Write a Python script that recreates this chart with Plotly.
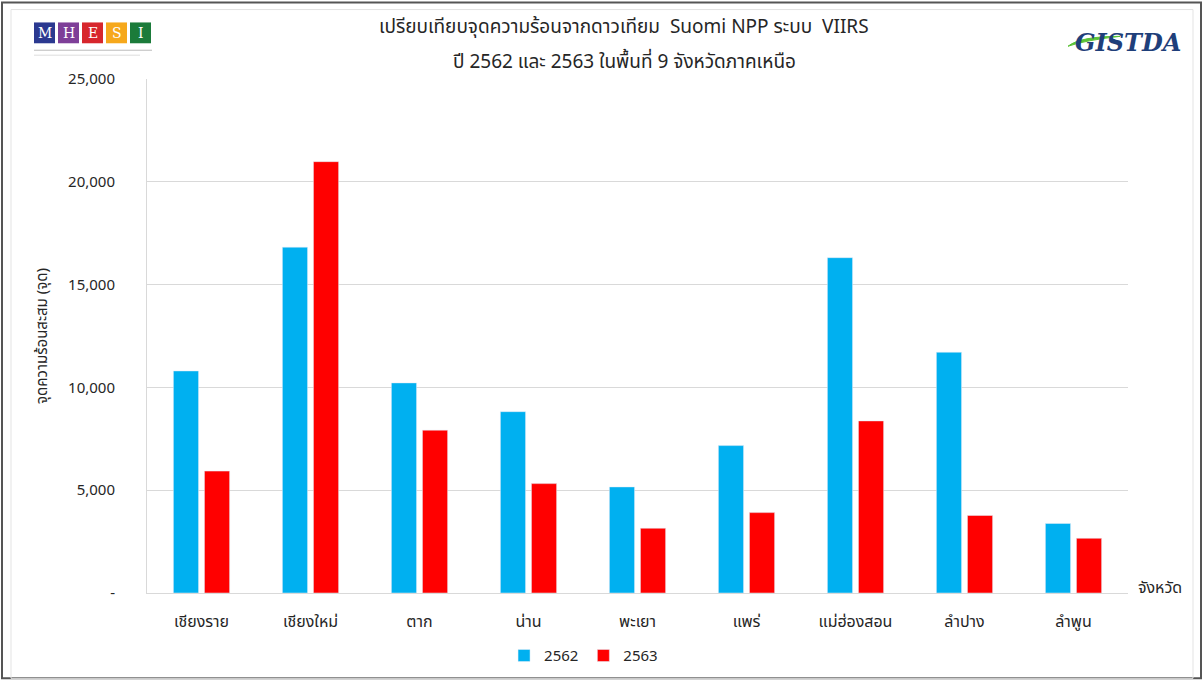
import plotly.graph_objects as go

provinces = ["เชียงราย", "เชียงใหม่", "ตาก", "น่าน", "พะเยา", "แพร่", "แม่ฮ่องสอน", "ลำปาง", "ลำพูน"]
hotspots_2562 = [10800, 16820, 10220, 8820, 5160, 7170, 16310, 11710, 3380]
hotspots_2563 = [5930, 20980, 7920, 5320, 3150, 3910, 8370, 3770, 2660]
y_ticks = [0, 5000, 10000, 15000, 20000, 25000]
y_tick_text = ["-", "5,000", "10,000", "15,000", "20,000", "25,000"]

FONT = "Tahoma, 'Noto Sans Thai', 'Leelawadee UI', 'DejaVu Sans', sans-serif"
W, H = 1203, 684
L, R, T, B = 147, 75, 79, 87

fig = go.Figure()
fig.add_trace(go.Bar(name="2562", x=provinces, y=hotspots_2562, marker_color="#00B0F0"))
fig.add_trace(go.Bar(name="2563", x=provinces, y=hotspots_2563, marker_color="#FF0000"))

fig.update_layout(
    width=W, height=H,
    margin=dict(l=L, r=R, t=T, b=B),
    paper_bgcolor="white", plot_bgcolor="white",
    barmode="group", bargap=0.43, bargroupgap=0.19,
    font=dict(family=FONT, size=14, color="#262626"),
    showlegend=True,
    legend=dict(orientation="h", x=0.445, xanchor="center", y=-0.09, yanchor="top",
                font=dict(size=15, color="#262626"), itemwidth=30, traceorder="normal"),
    xaxis=dict(showgrid=False, showline=True, linecolor="#D9D9D9", linewidth=1,
               ticks="", tickfont=dict(size=16, color="#262626"), ticklabelstandoff=14),
    yaxis=dict(range=[0, 25000], tickvals=y_ticks, ticktext=y_tick_text,
               showgrid=True, gridcolor="#D9D9D9", gridwidth=1,
               showline=True, linecolor="#D9D9D9", linewidth=1, zeroline=False,
               ticks="", tickfont=dict(size=15, color="#262626"), ticklabelstandoff=28,
               title=dict(text="จุดความร้อนสะสม (จุด)", font=dict(size=15, color="#262626"),
                          standoff=16)),
)


def px_x(v):
    return (v - L) / (W - L - R)


def px_y(v):
    return (H - v - B) / (H - T - B)


annotations = [
    dict(text="เปรียบเทียบจุดความร้อนจากดาวเทียม  Suomi NPP ระบบ  VIIRS", x=624, y=27,
         font=dict(size=19, color="#262626")),
    dict(text="ปี 2562 และ 2563 ในพื้นที่ 9 จังหวัดภาคเหนือ", x=624, y=62,
         font=dict(size=19, color="#262626")),
    dict(text="จังหวัด", x=1160, y=592, font=dict(size=16, color="#262626")),
    dict(text="<b><i>GISTDA</i></b>", x=1128, y=42,
         font=dict(size=24, color="#1F3F7A", family="'DejaVu Serif', serif")),
]

shapes = [
    dict(type="rect", xref="paper", yref="paper", x0=px_x(2), x1=px_x(1201),
         y0=px_y(683), y1=px_y(2), line=dict(color="#555555", width=2), fillcolor="rgba(0,0,0,0)"),
    dict(type="rect", xref="paper", yref="paper", x0=px_x(11), x1=px_x(1193),
         y0=px_y(683), y1=px_y(9), line=dict(color="#E3E3E3", width=1), fillcolor="rgba(0,0,0,0)"),
]
# Ministry emblem: five coloured letter tiles
tile_colors = ["#2B3990", "#7E3F98", "#D7262C", "#F6A81C", "#1B7B3A"]
tile_letters = ["M", "H", "E", "S", "I"]
for i, (c, letter) in enumerate(zip(tile_colors, tile_letters)):
    x0 = 34 + i * 24
    shapes.append(dict(type="rect", xref="paper", yref="paper", x0=px_x(x0), x1=px_x(x0 + 21),
                       y0=px_y(43), y1=px_y(22), line=dict(width=0), fillcolor=c))
    annotations.append(dict(text=letter, x=x0 + 10.5, y=33,
                            font=dict(size=14, color="white", family="'DejaVu Serif', serif")))
shapes.append(dict(type="line", xref="paper", yref="paper", x0=px_x(34), x1=px_x(152),
                   y0=px_y(50), y1=px_y(50), line=dict(color="#BBBBBB", width=1)))
shapes.append(dict(type="line", xref="paper", yref="paper", x0=px_x(34), x1=px_x(140),
                   y0=px_y(55), y1=px_y(55), line=dict(color="#DDDDDD", width=1)))
# Green swoosh under the agency wordmark
shapes.append(dict(type="path", xref="paper", yref="paper",
                   path=f"M {px_x(1068)},{px_y(46)} Q {px_x(1080)},{px_y(36)} {px_x(1120)},{px_y(36)} "
                        f"Q {px_x(1085)},{px_y(40)} {px_x(1068)},{px_y(46)} Z",
                   fillcolor="#5BC236", line=dict(color="#5BC236", width=1)))

for a in annotations:
    a.update(xref="paper", yref="paper", showarrow=False, xanchor="center", yanchor="middle")
    a["x"] = px_x(a["x"])
    a["y"] = px_y(a["y"])

fig.update_layout(annotations=annotations, shapes=shapes)

fig.write_html("out.html")
